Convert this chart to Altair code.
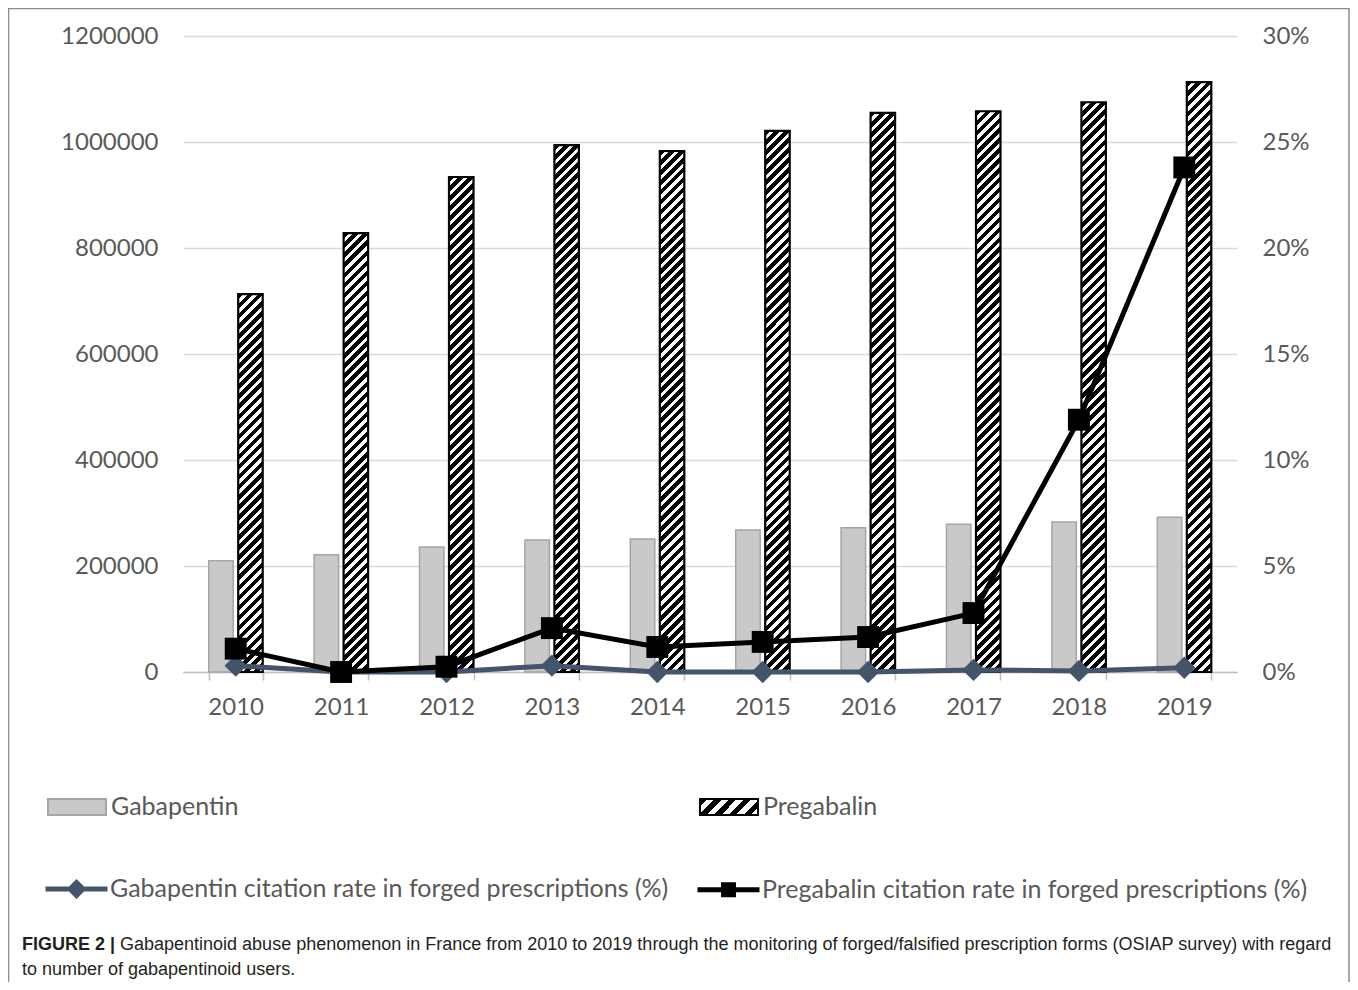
import json
import math
import altair as alt

# ---------------- data ----------------
years = ["2010", "2011", "2012", "2013", "2014", "2015", "2016", "2017", "2018", "2019"]
gabapentin_users = [210000, 221000, 236000, 249000, 251000, 268000, 272000, 279000, 283000, 292000]
pregabalin_users = [713000, 828000, 934000, 994000, 983000, 1021000, 1055000, 1058000, 1075000, 1113000]
gabapentin_rate = [0.3, 0.0, 0.0, 0.3, 0.0, 0.0, 0.0, 0.1, 0.05, 0.2]
pregabalin_rate = [1.1, 0.0, 0.25, 2.07, 1.18, 1.42, 1.65, 2.78, 11.9, 23.8]
bar_series = ["Gabapentin", "Pregabalin"]
rate_series = [
    "Gabapentin citation rate in forged prescriptions (%)",
    "Pregabalin citation rate in forged prescriptions (%)",
]
left_ticks = [0, 200000, 400000, 600000, 800000, 1000000, 1200000]
right_ticks = [0, 5, 10, 15, 20, 25, 30]
caption_bold = "FIGURE 2 |"
caption_line1 = ("Gabapentinoid abuse phenomenon in France from 2010 to 2019 through the monitoring "
                 "of forged/falsified prescription forms (OSIAP survey) with regard")
caption_line2 = "to number of gabapentinoid users."

# ---------------- layout / style ----------------
PLOT_W, PLOT_H = 1054, 636
Y_MAX = 1200000
PAD_IN, PAD_OUT = 0.4877, 0.2439
OFF_PAD = 0.17
GRAY_TXT = "#595959"
FONT = "Lato"
LBL = 24
LEG_LBL = 25
CAP_FONT = "Liberation Sans"
CAP_SIZE = 18

step = PLOT_W / len(years)
band = step * (1 - PAD_IN)
bar_w = band / (2 - OFF_PAD) * (1 - OFF_PAD)


def hatch(w, h, period, frac=0.55):
    """Diagonal '/' hatch as a linear gradient in bounding-box units."""
    s = (w + h) / (w * w + h * h)
    n = max(1, int(round((w + h) / (period * math.sqrt(2)))))
    stops = []
    for k in range(n):
        a, b, c = k / n, (k + frac) / n, (k + 1) / n
        stops += [
            {"offset": round(a, 5), "color": "#000000"},
            {"offset": round(b, 5), "color": "#000000"},
            {"offset": round(b, 5), "color": "#ffffff"},
            {"offset": round(c, 5), "color": "#ffffff"},
        ]
    return {"gradient": "linear", "x1": 0, "y1": 0,
            "x2": round(s * w, 5), "y2": round(s * h, 5), "stops": stops}


bar_records = []
for i, yr in enumerate(years):
    for name, vals in ((bar_series[0], gabapentin_users), (bar_series[1], pregabalin_users)):
        v = vals[i]
        h = v / Y_MAX * PLOT_H
        if name == bar_series[0]:
            grad, sw = "#c9c9c9", 1.5
        else:
            grad, sw = hatch(bar_w, h, 7.07), 2.2
        bar_records.append({"year": yr, "series": name, "users": v, "grad": grad, "sw": sw})

rate_records = []
for i, yr in enumerate(years):
    rate_records.append({"year": yr, "rseries": rate_series[0], "rate": gabapentin_rate[i]})
    rate_records.append({"year": yr, "rseries": rate_series[1], "rate": pregabalin_rate[i]})

bar_data = alt.Data(values=bar_records)
rate_data = alt.Data(values=rate_records)

legend_hatch_expr = json.dumps(hatch(58, 16, 10, 0.5))

x_enc = alt.X(
    "year:N", sort=years,
    scale=alt.Scale(paddingInner=PAD_IN, paddingOuter=PAD_OUT),
    axis=alt.Axis(title=None, labelAngle=0, labelFontSize=LBL, labelColor=GRAY_TXT, labelPadding=15,
                  tickBand="extent", tickSize=8, tickColor="#bfbfbf", tickWidth=1.5,
                  domainColor="#bfbfbf", domainWidth=1.5, grid=False),
)
y_left = alt.Y(
    "users:Q", stack=None,
    scale=alt.Scale(domain=[0, Y_MAX], nice=False),
    axis=alt.Axis(orient="left", values=left_ticks, format="d", title=None, labelFontSize=LBL,
                  labelColor=GRAY_TXT, labelPadding=25, domain=False, ticks=False, tickSize=0,
                  grid=True, gridColor="#d9d9d9", gridWidth=1.5),
)
y_right = alt.Y(
    "rate:Q",
    scale=alt.Scale(domain=[0, 30], nice=False),
    axis=alt.Axis(orient="right", values=right_ticks, labelExpr="datum.value + '%'", title=None,
                  labelFontSize=LBL, labelColor=GRAY_TXT, labelPadding=25, labelAlign="left",
                  domain=False, ticks=False, tickSize=0, grid=False),
)
x_off = alt.XOffset("series:N", scale=alt.Scale(domain=bar_series, paddingInner=OFF_PAD, paddingOuter=0))

bar_fill_scale = alt.Scale(domain=bar_series, range=["#c9c9c9", {"expr": legend_hatch_expr}])
bar_stroke_scale = alt.Scale(domain=bar_series, range=["#a5a5a5", "#000000"])
rate_color_scale = alt.Scale(domain=rate_series, range=["#44546a", "#000000"])

bar_legend = alt.Legend(title=None, orient="none", legendX=-136, legendY=741, direction="horizontal",
                        columns=2, columnPadding=457, symbolType="M-1,-0.276H1V0.276H-1Z",
                        symbolSize=3364, symbolStrokeWidth=2, labelFontSize=LEG_LBL,
                        labelColor=GRAY_TXT, labelOffset=4, padding=0, labelLimit=800)
rate_legend = alt.Legend(title=None, orient="none", legendX=-140, legendY=819, direction="horizontal",
                         columns=2, columnPadding=18, symbolSize=3844, symbolStrokeWidth=5,
                         labelFontSize=LEG_LBL, labelColor=GRAY_TXT, labelOffset=0, padding=0,
                         labelLimit=800)

# legend symbols: a line with a marker built from nested outlines (stroke only)
diamond_leg = ("M-1,0H1M0,-0.21L0.21,0L0,0.21L-0.21,0Z"
               "M0,-0.14L0.14,0L0,0.14L-0.14,0Z"
               "M0,-0.07L0.07,0L0,0.07L-0.07,0Z")
square_leg = ("M-1,0H1M-0.16,-0.16H0.16V0.16H-0.16Z"
              "M-0.1,-0.1H0.1V0.1H-0.1Z"
              "M-0.04,-0.04H0.04V0.04H-0.04Z")

# ---------------- bars ----------------
bar_legend_layer = alt.Chart(bar_data).mark_bar(strokeWidth=2).encode(
    fill=alt.Fill("series:N", scale=bar_fill_scale, legend=bar_legend),
    stroke=alt.Stroke("series:N", scale=bar_stroke_scale, legend=bar_legend),
).transform_filter("false")

bars = alt.Chart(bar_data).mark_bar().encode(
    x=x_enc, xOffset=x_off, y=y_left,
    fill=alt.Fill("grad:N", scale=None, legend=None),
    stroke=alt.Stroke("series:N", scale=bar_stroke_scale, legend=bar_legend),
    strokeWidth=alt.StrokeWidth("sw:Q", scale=None, legend=None),
)
bar_group = alt.layer(bar_legend_layer, bars)

# ---------------- rates ----------------
rate_color = alt.Color("rseries:N", scale=rate_color_scale, legend=rate_legend)

rate_legend_layer = alt.Chart(rate_data).mark_point(filled=False, strokeWidth=5, opacity=1).encode(
    color=rate_color,
    shape=alt.Shape("rseries:N", scale=alt.Scale(domain=rate_series, range=[diamond_leg, square_leg]),
                    legend=rate_legend),
).transform_filter("false")
lines = alt.Chart(rate_data).mark_line(strokeWidth=5, interpolate="linear").encode(
    x=x_enc, y=y_right, color=rate_color,
)
diamonds = alt.Chart(rate_data).mark_point(shape="diamond", filled=True, size=500, opacity=1,
                                           strokeWidth=0).encode(
    x=x_enc, y=y_right, color=rate_color,
).transform_filter(alt.datum.rseries == rate_series[0])
squares = alt.Chart(rate_data).mark_point(shape="square", filled=True, size=480, opacity=1,
                                          strokeWidth=0).encode(
    x=x_enc, y=y_right, color=rate_color,
).transform_filter(alt.datum.rseries == rate_series[1])
rate_group = alt.layer(rate_legend_layer, lines, diamonds, squares)

# ---------------- frame and caption ----------------
frame = alt.Chart(alt.Data(values=[{"k": 1}])).mark_rect(fillOpacity=0, stroke="#8c8c8c",
                                                         strokeWidth=1.5).encode(
    x=alt.value(-174.5), x2=alt.value(1166), y=alt.value(-27.5), y2=alt.value(1000),
)
cap_bold = alt.Chart(alt.Data(values=[{"t": caption_bold}])).mark_text(
    align="left", baseline="middle", font=CAP_FONT, fontSize=CAP_SIZE, fontWeight="bold",
    color="#231f20").encode(x=alt.value(-161), y=alt.value(909), text="t:N")
cap_1 = alt.Chart(alt.Data(values=[{"t": caption_line1}])).mark_text(
    align="left", baseline="middle", font=CAP_FONT, fontSize=CAP_SIZE,
    color="#231f20").encode(x=alt.value(-63), y=alt.value(909), text="t:N")
cap_2 = alt.Chart(alt.Data(values=[{"t": caption_line2}])).mark_text(
    align="left", baseline="middle", font=CAP_FONT, fontSize=CAP_SIZE,
    color="#231f20").encode(x=alt.value(-161), y=alt.value(934), text="t:N")

chart = alt.layer(bar_group, rate_group, frame, cap_bold, cap_1, cap_2).resolve_scale(
    y="independent"
).properties(
    width=PLOT_W, height=PLOT_H,
    padding={"left": 175, "top": 28, "right": 113, "bottom": 310},
    autosize=alt.AutoSizeParams(type="none"),
).configure(font=FONT).configure_view(stroke=None)

chart.save("out.html", embed_options={"renderer": "svg", "actions": False})
